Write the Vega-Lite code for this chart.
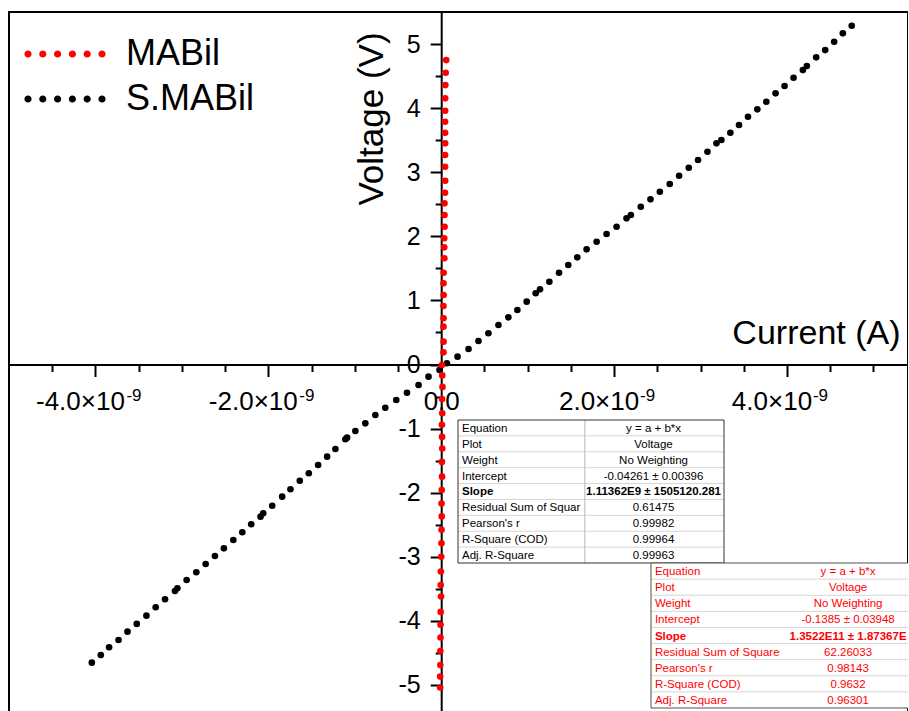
{
  "$schema": "https://vega.github.io/schema/vega-lite/v6.json",
  "width": 899,
  "height": 705,
  "autosize": "none",
  "padding": {"left": 9, "top": 12, "right": 0, "bottom": 0},
  "background": "white",
  "config": {"view": {"stroke": "#000000", "strokeWidth": 2}, "font": "Liberation Sans"},
  "datasets": {
    "iv": [
      {"series": "S.MABil", "current": 0.066e-9, "voltage": 0.019},
      {"series": "S.MABil", "current": 0.189e-9, "voltage": 0.122},
      {"series": "S.MABil", "current": 0.316e-9, "voltage": 0.242},
      {"series": "S.MABil", "current": 0.431e-9, "voltage": 0.367},
      {"series": "S.MABil", "current": 0.546e-9, "voltage": 0.487},
      {"series": "S.MABil", "current": 0.662e-9, "voltage": 0.616},
      {"series": "S.MABil", "current": 0.777e-9, "voltage": 0.736},
      {"series": "S.MABil", "current": 0.881e-9, "voltage": 0.850},
      {"series": "S.MABil", "current": 0.989e-9, "voltage": 0.980},
      {"series": "S.MABil", "current": 1.093e-9, "voltage": 1.111},
      {"series": "S.MABil", "current": 1.143e-9, "voltage": 1.173},
      {"series": "S.MABil", "current": 1.251e-9, "voltage": 1.292},
      {"series": "S.MABil", "current": 1.363e-9, "voltage": 1.432},
      {"series": "S.MABil", "current": 1.470e-9, "voltage": 1.552},
      {"series": "S.MABil", "current": 1.574e-9, "voltage": 1.672},
      {"series": "S.MABil", "current": 1.682e-9, "voltage": 1.797},
      {"series": "S.MABil", "current": 1.798e-9, "voltage": 1.916},
      {"series": "S.MABil", "current": 1.913e-9, "voltage": 2.036},
      {"series": "S.MABil", "current": 2.029e-9, "voltage": 2.150},
      {"series": "S.MABil", "current": 2.144e-9, "voltage": 2.281},
      {"series": "S.MABil", "current": 2.194e-9, "voltage": 2.332},
      {"series": "S.MABil", "current": 2.309e-9, "voltage": 2.462},
      {"series": "S.MABil", "current": 2.421e-9, "voltage": 2.577},
      {"series": "S.MABil", "current": 2.529e-9, "voltage": 2.696},
      {"series": "S.MABil", "current": 2.644e-9, "voltage": 2.816},
      {"series": "S.MABil", "current": 2.752e-9, "voltage": 2.945},
      {"series": "S.MABil", "current": 2.864e-9, "voltage": 3.070},
      {"series": "S.MABil", "current": 2.971e-9, "voltage": 3.190},
      {"series": "S.MABil", "current": 3.080e-9, "voltage": 3.320},
      {"series": "S.MABil", "current": 3.184e-9, "voltage": 3.451},
      {"series": "S.MABil", "current": 3.241e-9, "voltage": 3.502},
      {"series": "S.MABil", "current": 3.345e-9, "voltage": 3.616},
      {"series": "S.MABil", "current": 3.445e-9, "voltage": 3.736},
      {"series": "S.MABil", "current": 3.549e-9, "voltage": 3.866},
      {"series": "S.MABil", "current": 3.657e-9, "voltage": 3.981},
      {"series": "S.MABil", "current": 3.761e-9, "voltage": 4.100},
      {"series": "S.MABil", "current": 3.868e-9, "voltage": 4.231},
      {"series": "S.MABil", "current": 3.972e-9, "voltage": 4.345},
      {"series": "S.MABil", "current": 4.076e-9, "voltage": 4.474},
      {"series": "S.MABil", "current": 4.184e-9, "voltage": 4.594},
      {"series": "S.MABil", "current": 4.230e-9, "voltage": 4.657},
      {"series": "S.MABil", "current": 4.338e-9, "voltage": 4.793},
      {"series": "S.MABil", "current": 4.442e-9, "voltage": 4.906},
      {"series": "S.MABil", "current": 4.546e-9, "voltage": 5.036},
      {"series": "S.MABil", "current": 4.646e-9, "voltage": 5.167},
      {"series": "S.MABil", "current": 4.749e-9, "voltage": 5.285},
      {"series": "S.MABil", "current": -0.020e-9, "voltage": -0.086},
      {"series": "S.MABil", "current": -0.147e-9, "voltage": -0.190},
      {"series": "S.MABil", "current": -0.262e-9, "voltage": -0.320},
      {"series": "S.MABil", "current": -0.396e-9, "voltage": -0.440},
      {"series": "S.MABil", "current": -0.520e-9, "voltage": -0.554},
      {"series": "S.MABil", "current": -0.647e-9, "voltage": -0.674},
      {"series": "S.MABil", "current": -0.762e-9, "voltage": -0.788},
      {"series": "S.MABil", "current": -0.878e-9, "voltage": -0.918},
      {"series": "S.MABil", "current": -0.993e-9, "voltage": -1.037},
      {"series": "S.MABil", "current": -1.089e-9, "voltage": -1.141},
      {"series": "S.MABil", "current": -1.109e-9, "voltage": -1.167},
      {"series": "S.MABil", "current": -1.224e-9, "voltage": -1.318},
      {"series": "S.MABil", "current": -1.320e-9, "voltage": -1.438},
      {"series": "S.MABil", "current": -1.424e-9, "voltage": -1.568},
      {"series": "S.MABil", "current": -1.532e-9, "voltage": -1.697},
      {"series": "S.MABil", "current": -1.636e-9, "voltage": -1.813},
      {"series": "S.MABil", "current": -1.744e-9, "voltage": -1.947},
      {"series": "S.MABil", "current": -1.840e-9, "voltage": -2.062},
      {"series": "S.MABil", "current": -1.955e-9, "voltage": -2.203},
      {"series": "S.MABil", "current": -2.059e-9, "voltage": -2.321},
      {"series": "S.MABil", "current": -2.090e-9, "voltage": -2.374},
      {"series": "S.MABil", "current": -2.198e-9, "voltage": -2.493},
      {"series": "S.MABil", "current": -2.301e-9, "voltage": -2.618},
      {"series": "S.MABil", "current": -2.405e-9, "voltage": -2.738},
      {"series": "S.MABil", "current": -2.514e-9, "voltage": -2.868},
      {"series": "S.MABil", "current": -2.618e-9, "voltage": -2.988},
      {"series": "S.MABil", "current": -2.725e-9, "voltage": -3.112},
      {"series": "S.MABil", "current": -2.833e-9, "voltage": -3.242},
      {"series": "S.MABil", "current": -2.945e-9, "voltage": -3.362},
      {"series": "S.MABil", "current": -3.052e-9, "voltage": -3.491},
      {"series": "S.MABil", "current": -3.080e-9, "voltage": -3.534},
      {"series": "S.MABil", "current": -3.195e-9, "voltage": -3.663},
      {"series": "S.MABil", "current": -3.303e-9, "voltage": -3.788},
      {"series": "S.MABil", "current": -3.410e-9, "voltage": -3.919},
      {"series": "S.MABil", "current": -3.522e-9, "voltage": -4.048},
      {"series": "S.MABil", "current": -3.629e-9, "voltage": -4.168},
      {"series": "S.MABil", "current": -3.733e-9, "voltage": -4.298},
      {"series": "S.MABil", "current": -3.842e-9, "voltage": -4.412},
      {"series": "S.MABil", "current": -3.938e-9, "voltage": -4.532},
      {"series": "S.MABil", "current": -4.042e-9, "voltage": -4.652},
      {"series": "MABil", "current": 0.058e-9, "voltage": 4.750},
      {"series": "MABil", "current": 0.052e-9, "voltage": 4.552},
      {"series": "MABil", "current": 0.048e-9, "voltage": 4.360},
      {"series": "MABil", "current": 0.046e-9, "voltage": 4.153},
      {"series": "MABil", "current": 0.046e-9, "voltage": 3.959},
      {"series": "MABil", "current": 0.045e-9, "voltage": 3.788},
      {"series": "MABil", "current": 0.045e-9, "voltage": 3.616},
      {"series": "MABil", "current": 0.046e-9, "voltage": 3.451},
      {"series": "MABil", "current": 0.045e-9, "voltage": 3.268},
      {"series": "MABil", "current": 0.045e-9, "voltage": 3.086},
      {"series": "MABil", "current": 0.046e-9, "voltage": 2.867},
      {"series": "MABil", "current": 0.044e-9, "voltage": 2.680},
      {"series": "MABil", "current": 0.038e-9, "voltage": 2.515},
      {"series": "MABil", "current": 0.038e-9, "voltage": 2.332},
      {"series": "MABil", "current": 0.039e-9, "voltage": 2.150},
      {"series": "MABil", "current": 0.035e-9, "voltage": 1.969},
      {"series": "MABil", "current": 0.035e-9, "voltage": 1.828},
      {"series": "MABil", "current": 0.036e-9, "voltage": 1.657},
      {"series": "MABil", "current": 0.028e-9, "voltage": 1.432},
      {"series": "MABil", "current": 0.027e-9, "voltage": 1.267},
      {"series": "MABil", "current": 0.028e-9, "voltage": 1.084},
      {"series": "MABil", "current": 0.026e-9, "voltage": 0.913},
      {"series": "MABil", "current": 0.027e-9, "voltage": 0.721},
      {"series": "MABil", "current": 0.026e-9, "voltage": 0.590},
      {"series": "MABil", "current": 0.027e-9, "voltage": 0.356},
      {"series": "MABil", "current": 0.026e-9, "voltage": 0.190},
      {"series": "MABil", "current": 0.008e-9, "voltage": -0.008},
      {"series": "MABil", "current": 0.012e-9, "voltage": -0.17},
      {"series": "MABil", "current": 0.015e-9, "voltage": -0.35},
      {"series": "MABil", "current": 0.010e-9, "voltage": -0.54},
      {"series": "MABil", "current": 0.012e-9, "voltage": -0.76},
      {"series": "MABil", "current": 0.008e-9, "voltage": -0.94},
      {"series": "MABil", "current": 0.010e-9, "voltage": -1.13},
      {"series": "MABil", "current": 0.012e-9, "voltage": -1.31},
      {"series": "MABil", "current": 0.008e-9, "voltage": -1.52},
      {"series": "MABil", "current": 0.010e-9, "voltage": -1.75},
      {"series": "MABil", "current": 0.006e-9, "voltage": -1.96},
      {"series": "MABil", "current": 0.004e-9, "voltage": -2.17},
      {"series": "MABil", "current": 0.006e-9, "voltage": -2.37},
      {"series": "MABil", "current": 0.004e-9, "voltage": -2.58},
      {"series": "MABil", "current": 0.003e-9, "voltage": -2.79},
      {"series": "MABil", "current": 0.000e-9, "voltage": -3.00},
      {"series": "MABil", "current": -0.004e-9, "voltage": -3.23},
      {"series": "MABil", "current": -0.006e-9, "voltage": -3.44},
      {"series": "MABil", "current": -0.002e-9, "voltage": -3.62},
      {"series": "MABil", "current": -0.006e-9, "voltage": -3.86},
      {"series": "MABil", "current": -0.008e-9, "voltage": -4.06},
      {"series": "MABil", "current": -0.008e-9, "voltage": -4.26},
      {"series": "MABil", "current": -0.010e-9, "voltage": -4.47},
      {"series": "MABil", "current": -0.010e-9, "voltage": -4.69},
      {"series": "MABil", "current": -0.012e-9, "voltage": -4.87},
      {"series": "MABil", "current": -0.012e-9, "voltage": -5.04}
    ],
    "t1": [
      {"row": 1, "label": "Equation", "value": "y = a + b*x"},
      {"row": 2, "label": "Plot", "value": "Voltage"},
      {"row": 3, "label": "Weight", "value": "No Weighting"},
      {"row": 4, "label": "Intercept", "value": "-0.04261 ± 0.00396"},
      {"row": 5, "label": "Slope", "value": "1.11362E9 ± 1505120.281"},
      {"row": 6, "label": "Residual Sum of Squar", "value": "0.61475"},
      {"row": 7, "label": "Pearson's r", "value": "0.99982"},
      {"row": 8, "label": "R-Square (COD)", "value": "0.99964"},
      {"row": 9, "label": "Adj. R-Square", "value": "0.99963"}
    ],
    "t2": [
      {"row": 1, "label": "Equation", "value": "y = a + b*x"},
      {"row": 2, "label": "Plot", "value": "Voltage"},
      {"row": 3, "label": "Weight", "value": "No Weighting"},
      {"row": 4, "label": "Intercept", "value": "-0.1385 ± 0.03948"},
      {"row": 5, "label": "Slope", "value": "1.3522E11 ± 1.87367E"},
      {"row": 6, "label": "Residual Sum of Square", "value": "62.26033"},
      {"row": 7, "label": "Pearson's r", "value": "0.98143"},
      {"row": 8, "label": "R-Square (COD)", "value": "0.9632"},
      {"row": 9, "label": "Adj. R-Square", "value": "0.96301"}
    ]
  },
  "layer": [
    {
      "data": {"name": "iv"},
      "layer": [
        {
          "mark": {"type": "point", "filled": true, "shape": "circle", "size": 44, "opacity": 1, "strokeWidth": 0},
          "encoding": {
            "x": {
              "field": "current", "type": "quantitative",
              "scale": {"domain": [-5e-9, 5.4e-9], "nice": false, "zero": false},
              "axis": {
                "orient": "bottom", "offset": -352.5, "grid": false,
                "values": [-4.5e-9, -4e-9, -3.5e-9, -3e-9, -2.5e-9, -2e-9, -1.5e-9, -1e-9, -0.5e-9, 0, 0.5e-9, 1e-9, 1.5e-9, 2e-9, 2.5e-9, 3e-9, 3.5e-9, 4e-9, 4.5e-9, 5e-9],
                "labelExpr": "abs(datum.value) < 1e-12 ? '0.0' : (abs(datum.value*5e8 - round(datum.value*5e8)) < 0.01 ? (datum.value < 0 ? '-' : '') + format(abs(datum.value)*1e9, '.1f') + '×10' : '')",
                "tickSize": {"condition": {"test": "abs(datum.value*5e8 - round(datum.value*5e8)) < 0.01", "value": 12}, "value": 7},
                "labelOffset": {"condition": {"test": "abs(datum.value) > 1e-12", "value": -15.5}, "value": 0},
                "tickWidth": 2, "tickColor": "#000000", "domainColor": "#000000", "domainWidth": 2,
                "labelFont": "Liberation Sans", "labelFontSize": 26, "labelColor": "#000000", "labelPadding": 11.5,
                "labelFlush": false, "labelOverlap": false, "labelBaseline": "top",
                "title": "Current (A)", "titleFont": "Liberation Sans", "titleFontSize": 34, "titleFontWeight": "normal", "titleColor": "#000000",
                "titleX": 891, "titleY": -21, "titleAlign": "right", "titleBaseline": "alphabetic", "titleAngle": 0
              }
            },
            "y": {
              "field": "voltage", "type": "quantitative",
              "scale": {"domain": [-5.5, 5.5], "nice": false, "zero": false},
              "axis": {
                "orient": "left", "offset": -432.2, "grid": false,
                "values": [-5, -4.5, -4, -3.5, -3, -2.5, -2, -1.5, -1, -0.5, 0, 0.5, 1, 1.5, 2, 2.5, 3, 3.5, 4, 4.5, 5],
                "labelExpr": "abs(datum.value - round(datum.value)) < 0.01 ? (datum.value < -0.01 ? '-' : '') + format(abs(datum.value), '.0f') : ''",
                "tickSize": {"condition": {"test": "abs(datum.value - round(datum.value)) < 0.01", "value": 11}, "value": 6},
                "tickWidth": 2, "tickColor": "#000000", "domainColor": "#000000", "domainWidth": 2,
                "labelFont": "Liberation Sans", "labelFontSize": 25, "labelColor": "#000000", "labelPadding": 10,
                "labelFlush": false, "labelOverlap": false,
                "title": "Voltage (V)", "titleFont": "Liberation Sans", "titleFontSize": 35, "titleFontWeight": "normal", "titleColor": "#000000",
                "titleX": -59, "titleY": 106.5, "titleAlign": "center", "titleBaseline": "alphabetic", "titleAngle": -90
              }
            },
            "color": {
              "field": "series", "type": "nominal",
              "scale": {"domain": ["MABil", "S.MABil"], "range": ["#ff0000", "#000000"]},
              "legend": {
                "orient": "none", "legendX": 38, "legendY": 24, "title": null, "padding": 0,
                "symbolType": "M -5.8,0 A 0.514,0.514 0 1,1 -4.772,0 A 0.514,0.514 0 1,1 -5.8,0 Z M -3.685,0 A 0.514,0.514 0 1,1 -2.657,0 A 0.514,0.514 0 1,1 -3.685,0 Z M -1.571,0 A 0.514,0.514 0 1,1 -0.543,0 A 0.514,0.514 0 1,1 -1.571,0 Z M 0.543,0 A 0.514,0.514 0 1,1 1.571,0 A 0.514,0.514 0 1,1 0.543,0 Z M 2.657,0 A 0.514,0.514 0 1,1 3.685,0 A 0.514,0.514 0 1,1 2.657,0 Z M 4.772,0 A 0.514,0.514 0 1,1 5.8,0 A 0.514,0.514 0 1,1 4.772,0 Z",
                "symbolSize": 196, "symbolStrokeWidth": 0,
                "labelFont": "Liberation Sans", "labelFontSize": 36, "labelColor": "#000000", "labelOffset": 43, "labelLimit": 400,
                "rowPadding": 9
              }
            }
          }
        },
        {
          "mark": {"type": "point", "opacity": 0},
          "encoding": {
            "x": {
              "field": "current", "type": "quantitative",
              "axis": {
                "orient": "bottom", "offset": -352.5, "grid": false, "domain": false, "ticks": false, "tickSize": 0,
                "values": [-4e-9, -2e-9, 2e-9, 4e-9],
                "labelExpr": "'-9'",
                "labelOffset": {"condition": {"test": "datum.value > 0", "value": 33}, "value": 38},
                "labelFont": "Liberation Sans", "labelFontSize": 17, "labelColor": "#000000", "labelPadding": 22.5,
                "labelFlush": false, "labelOverlap": false, "labelBaseline": "top",
                "title": null
              }
            }
          }
        }
      ],
      "resolve": {"axis": {"x": "independent"}}
    },
    {
      "data": {"name": "t1"},
      "layer": [
        {
          "transform": [{"filter": "datum.row == 1"}],
          "mark": {"type": "rect", "fill": "#ffffff", "strokeWidth": 0},
          "encoding": {
            "x": {"datum": 0, "type": "quantitative", "scale": {"domain": [0, 1], "range": [449, 715], "nice": false, "zero": false}, "axis": null},
            "x2": {"datum": 1},
            "y": {"datum": 0, "type": "quantitative", "scale": {"domain": [0, 9], "range": [408, 551], "nice": false, "zero": false}, "axis": null},
            "y2": {"datum": 9}
          }
        },
        {
          "transform": [{"filter": "datum.row < 9"}],
          "mark": {"type": "rule", "color": "#d6d6d6", "strokeWidth": 1},
          "encoding": {
            "x": {"datum": 0, "type": "quantitative", "axis": null},
            "x2": {"datum": 1},
            "y": {"field": "row", "type": "quantitative", "axis": null}
          }
        },
        {
          "transform": [{"filter": "datum.row == 1"}],
          "mark": {"type": "rule", "color": "#b4b4b4", "strokeWidth": 1},
          "encoding": {
            "x": {"datum": 0.477, "type": "quantitative", "axis": null},
            "y": {"datum": 0, "type": "quantitative", "axis": null},
            "y2": {"datum": 9}
          }
        },
        {
          "transform": [{"filter": "datum.row == 1"}],
          "mark": {"type": "rect", "fillOpacity": 0, "stroke": "#333333", "strokeWidth": 1},
          "encoding": {
            "x": {"datum": 0, "type": "quantitative", "axis": null},
            "x2": {"datum": 1},
            "y": {"datum": 0, "type": "quantitative", "axis": null},
            "y2": {"datum": 9}
          }
        },
        {
          "transform": [{"filter": "datum.label != 'Slope'"}],
          "mark": {"type": "text", "align": "left", "baseline": "alphabetic", "dy": -4, "font": "Liberation Sans", "fontSize": 11.5, "color": "#000000"},
          "encoding": {
            "x": {"datum": 0.015, "type": "quantitative", "axis": null},
            "y": {"field": "row", "type": "quantitative", "axis": null},
            "text": {"field": "label"}
          }
        },
        {
          "transform": [{"filter": "datum.label == 'Slope'"}],
          "mark": {"type": "text", "align": "left", "baseline": "alphabetic", "dy": -4, "font": "Liberation Sans", "fontSize": 11.5, "fontWeight": "bold", "color": "#000000"},
          "encoding": {
            "x": {"datum": 0.015, "type": "quantitative", "axis": null},
            "y": {"field": "row", "type": "quantitative", "axis": null},
            "text": {"field": "label"}
          }
        },
        {
          "transform": [{"filter": "datum.label != 'Slope'"}],
          "mark": {"type": "text", "align": "center", "baseline": "alphabetic", "dy": -4, "font": "Liberation Sans", "fontSize": 11.5, "color": "#000000"},
          "encoding": {
            "x": {"datum": 0.735, "type": "quantitative", "axis": null},
            "y": {"field": "row", "type": "quantitative", "axis": null},
            "text": {"field": "value"}
          }
        },
        {
          "transform": [{"filter": "datum.label == 'Slope'"}],
          "mark": {"type": "text", "align": "center", "baseline": "alphabetic", "dy": -4, "font": "Liberation Sans", "fontSize": 11.5, "fontWeight": "bold", "color": "#000000"},
          "encoding": {
            "x": {"datum": 0.735, "type": "quantitative", "axis": null},
            "y": {"field": "row", "type": "quantitative", "axis": null},
            "text": {"field": "value"}
          }
        }
      ]
    },
    {
      "data": {"name": "t2"},
      "layer": [
        {
          "transform": [{"filter": "datum.row == 1"}],
          "mark": {"type": "rect", "fill": "#ffffff", "strokeWidth": 0},
          "encoding": {
            "x": {"datum": 0, "type": "quantitative", "scale": {"domain": [0, 1], "range": [642, 902], "nice": false, "zero": false}, "axis": null},
            "x2": {"datum": 1},
            "y": {"datum": 0, "type": "quantitative", "scale": {"domain": [0, 9], "range": [551, 696], "nice": false, "zero": false}, "axis": null},
            "y2": {"datum": 9}
          }
        },
        {
          "transform": [{"filter": "datum.row < 9"}],
          "mark": {"type": "rule", "color": "#d6d6d6", "strokeWidth": 1},
          "encoding": {
            "x": {"datum": 0, "type": "quantitative", "axis": null},
            "x2": {"datum": 1},
            "y": {"field": "row", "type": "quantitative", "axis": null}
          }
        },
        {
          "transform": [{"filter": "datum.row == 1"}],
          "mark": {"type": "rect", "fillOpacity": 0, "stroke": "#505050", "strokeWidth": 1},
          "encoding": {
            "x": {"datum": 0, "type": "quantitative", "axis": null},
            "x2": {"datum": 1},
            "y": {"datum": 0, "type": "quantitative", "axis": null},
            "y2": {"datum": 9}
          }
        },
        {
          "transform": [{"filter": "datum.label != 'Slope'"}],
          "mark": {"type": "text", "align": "left", "baseline": "alphabetic", "dy": -4, "font": "Liberation Sans", "fontSize": 11.5, "color": "#ff0000"},
          "encoding": {
            "x": {"datum": 0.015, "type": "quantitative", "axis": null},
            "y": {"field": "row", "type": "quantitative", "axis": null},
            "text": {"field": "label"}
          }
        },
        {
          "transform": [{"filter": "datum.label == 'Slope'"}],
          "mark": {"type": "text", "align": "left", "baseline": "alphabetic", "dy": -4, "font": "Liberation Sans", "fontSize": 11.5, "fontWeight": "bold", "color": "#ff0000"},
          "encoding": {
            "x": {"datum": 0.015, "type": "quantitative", "axis": null},
            "y": {"field": "row", "type": "quantitative", "axis": null},
            "text": {"field": "label"}
          }
        },
        {
          "transform": [{"filter": "datum.label != 'Slope'"}],
          "mark": {"type": "text", "align": "center", "baseline": "alphabetic", "dy": -4, "font": "Liberation Sans", "fontSize": 11.5, "color": "#ff0000"},
          "encoding": {
            "x": {"datum": 0.758, "type": "quantitative", "axis": null},
            "y": {"field": "row", "type": "quantitative", "axis": null},
            "text": {"field": "value"}
          }
        },
        {
          "transform": [{"filter": "datum.label == 'Slope'"}],
          "mark": {"type": "text", "align": "center", "baseline": "alphabetic", "dy": -4, "font": "Liberation Sans", "fontSize": 11.5, "fontWeight": "bold", "color": "#ff0000"},
          "encoding": {
            "x": {"datum": 0.758, "type": "quantitative", "axis": null},
            "y": {"field": "row", "type": "quantitative", "axis": null},
            "text": {"field": "value"}
          }
        }
      ]
    }
  ],
  "resolve": {"scale": {"x": "independent", "y": "independent"}}
}
